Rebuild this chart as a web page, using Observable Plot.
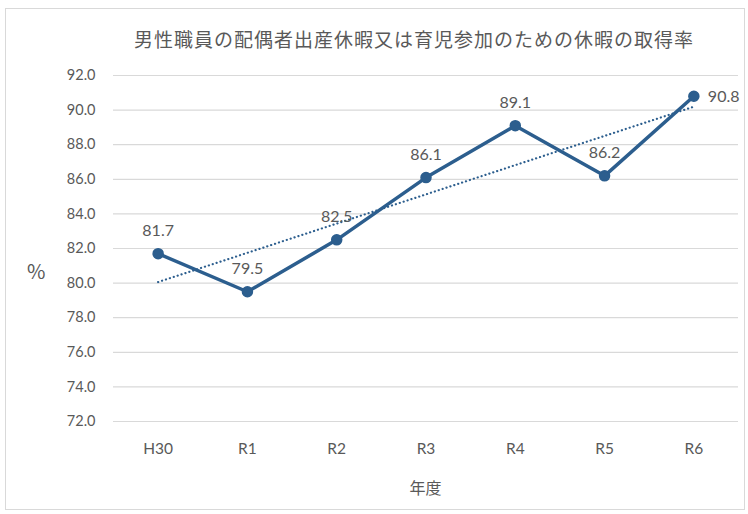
<!DOCTYPE html>
<html>
<head>
<meta charset="utf-8">
<script src="https://cdn.jsdelivr.net/npm/d3@7"></script>
<script src="https://cdn.jsdelivr.net/npm/@observablehq/plot@0.6"></script>
<style>
  body { margin: 0; background: #fff; width: 748px; height: 514px; overflow: hidden; position: relative; font-family: Lato, "Noto Sans CJK JP", sans-serif; }
  #frame { position: absolute; left: 5px; top: 8px; width: 740px; height: 502px; border: 1px solid #d9d9d9; box-sizing: border-box; }
  #title { position: absolute; left: 100px; width: 628px; top: 27px; text-align: center; font-family: "Noto Sans CJK JP", sans-serif; font-size: 19px; letter-spacing: 1px; color: #595959; line-height: 24px; }
  #ylab { position: absolute; left: 27px; top: 259px; font-size: 20px; color: #595959; font-family: "Noto Sans CJK JP", sans-serif; line-height: 24px; }
  #xlab { position: absolute; left: 113px; width: 625px; top: 475px; text-align: center; font-size: 16px; color: #595959; font-family: "Noto Sans CJK JP", sans-serif; line-height: 24px; }
  #chart { position: absolute; left: 0; top: 60px; }
</style>
</head>
<body>
<div id="frame"></div>
<div id="title">男性職員の配偶者出産休暇又は育児参加のための休暇の取得率</div>
<div id="ylab">%</div>
<div id="xlab">年度</div>
<div id="chart"></div>
<script>
const years = ["H30", "R1", "R2", "R3", "R4", "R5", "R6"];
const rates = [81.7, 79.5, 82.5, 86.1, 89.1, 86.2, 90.8];
const yTicks = [72, 74, 76, 78, 80, 82, 84, 86, 88, 90, 92];

const data = years.map((y, i) => ({i, year: y, rate: rates[i]}));
const color = "#2c5e8e";
const last = data.length - 1;

const chart = Plot.plot({
  width: 748,
  height: 454,
  marginLeft: 113,
  marginRight: 10,
  marginTop: 15,
  marginBottom: 93,
  style: {fontFamily: "Lato, 'Noto Sans CJK JP', sans-serif", fontSize: "14px", color: "#595959", background: "transparent"},
  x: {type: "linear", domain: [-0.5, 6.5]},
  y: {domain: [72, 92]},
  marks: [
    Plot.gridY(yTicks, {stroke: "#d9d9d9", strokeOpacity: 1, strokeWidth: 1.2}),
    Plot.axisY(yTicks, {tickSize: 0, tickPadding: 18, tickFormat: d => d.toFixed(1), label: null, fontSize: 14.5}),
    Plot.axisX(d3.range(years.length), {tickSize: 0, tickPadding: 21, tickFormat: i => years[i], label: null, fontSize: 15.5}),
    Plot.linearRegressionY(data, {x: "i", y: "rate", ci: 0, stroke: color, strokeWidth: 2.2, strokeLinecap: "round", strokeDasharray: "0.1 4"}),
    Plot.line(data, {x: "i", y: "rate", stroke: color, strokeWidth: 3.5}),
    Plot.dot(data, {x: "i", y: "rate", r: 5, fill: color, stroke: color}),
    Plot.text(data.filter(d => d.i !== last), {x: "i", y: "rate", text: d => d.rate.toFixed(1), dy: -23, fill: "#595959", fontSize: 16}),
    Plot.text(data.filter(d => d.i === last), {x: "i", y: "rate", text: d => d.rate.toFixed(1), dx: 14, dy: 1, textAnchor: "start", fill: "#595959", fontSize: 16})
  ]
});
document.getElementById("chart").appendChild(chart);
</script>
</body>
</html>
